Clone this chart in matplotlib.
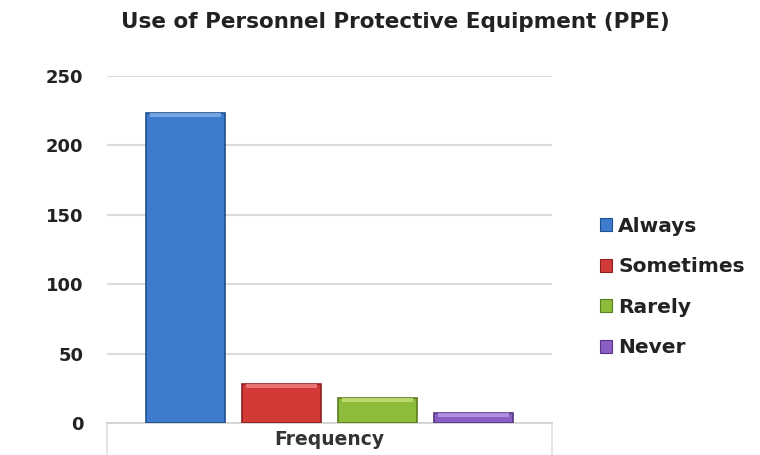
import matplotlib
matplotlib.use("Agg")
import matplotlib.pyplot as plt
from matplotlib.patches import Patch
import numpy as np

# Survey responses on PPE use
categories = ["Frequency"]
series_names = ["Always", "Sometimes", "Rarely", "Never"]
series_values = [223, 28, 18, 7]
y_ticks = [0, 50, 100, 150, 200, 250]

face_colors = ["#3d7ccc", "#d23a38", "#8dbb3a", "#8a5ec4"]
edge_colors = ["#1f4f8f", "#8e1f1f", "#5a7d1e", "#553585"]
top_colors = ["#7fb0ea", "#f08080", "#c3e07a", "#b799e6"]

plt.rcParams["font.family"] = ["DejaVu Sans"]

fig = plt.figure(figsize=(7.6, 4.55), dpi=100)
fig.patch.set_facecolor("white")
ax = fig.add_axes([107 / 760, 32 / 455, 445 / 760, 347 / 455])

n = len(series_names)
bar_w = 79 / 445
step = 96 / 445
offsets = (np.arange(n) - (n - 1) / 2) * step

for i, (name, val) in enumerate(zip(series_names, series_values)):
    x = 0 + offsets[i]
    ax.bar(x, val, width=bar_w, color=face_colors[i], edgecolor=edge_colors[i],
           linewidth=1.2, zorder=3)
    # bevel highlight along the top of each bar
    bevel = 250 * 4 / 347
    ax.bar(x, bevel, bottom=val - bevel, width=bar_w * 0.9, color=top_colors[i],
           linewidth=0, zorder=4, alpha=0.85)

ax.set_xlim(-0.5, 0.5)
ax.set_ylim(0, 250)
ax.set_yticks(y_ticks)
ax.set_yticklabels([str(t) for t in y_ticks], fontsize=13, fontweight="bold",
                   color="#222222")
ax.set_xticks([0])
ax.set_xticklabels(categories, fontsize=13.5, fontweight="bold", color="#333333")
ax.tick_params(axis="y", length=0, pad=17)
ax.tick_params(axis="x", length=0, pad=5)
ax.grid(axis="y", color="#dcdcdc", linewidth=1.5, zorder=0)
for s in ["top", "right", "left"]:
    ax.spines[s].set_visible(False)
ax.spines["bottom"].set_color("#d0d0d0")
ax.spines["bottom"].set_linewidth(1.2)

# category box edges below the axis
for xe in (-0.5, 0.5):
    ax.plot([xe, xe], [0, -250 * 32 / 347], color="#e0e0e0", linewidth=1.2,
            clip_on=False, zorder=2)

handles = [Patch(facecolor=face_colors[i], edgecolor=edge_colors[i], linewidth=0.8)
           for i in range(n)]
fig.legend(handles, series_names, loc="center left",
           bbox_to_anchor=(600 / 760, 1 - 287 / 455), frameon=False,
           prop={"size": 14.5, "weight": "bold"}, handlelength=0.6,
           handleheight=0.6, handletextpad=0.3, labelspacing=1.07,
           labelcolor="#222222", borderpad=0, borderaxespad=0)

fig.text(395 / 760, 1 - 22 / 455, "Use of Personnel Protective Equipment (PPE)",
         ha="center", va="center", fontsize=15.5, fontweight="bold", color="#222222")

fig.savefig("out.png", dpi=100, facecolor="white")
